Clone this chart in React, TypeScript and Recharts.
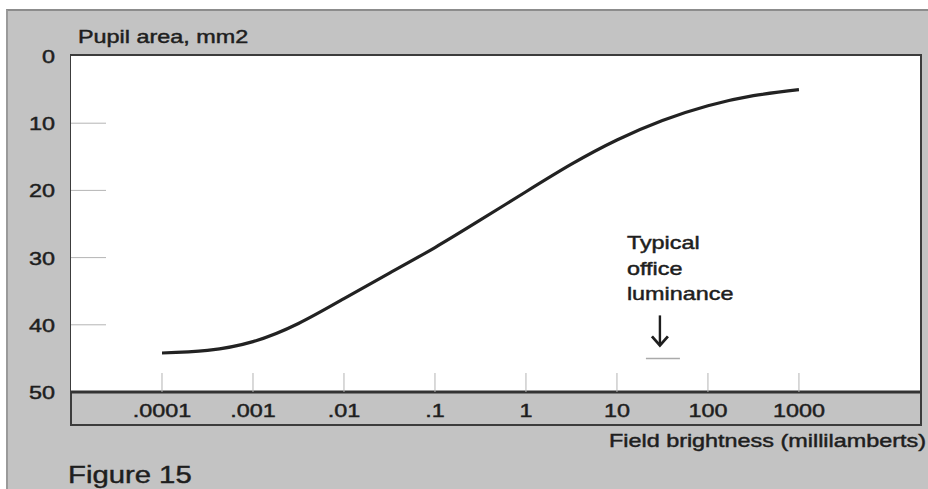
import React from 'react';
import { LineChart, Line, XAxis, YAxis, CartesianGrid, ReferenceDot } from 'recharts';

// field brightness (millilamberts) at half-decade steps
const brightness = [0.0001, 0.000316, 0.001, 0.00316, 0.01, 0.0316, 0.1, 0.316, 1, 3.16, 10, 31.6, 100, 316, 1000];
// pupil area, mm2
const pupilArea = [44.2, 43.8, 42.5, 39.8, 36.1, 32.3, 28.5, 24.4, 20.2, 16.1, 12.5, 9.6, 7.4, 5.9, 5.0];

const xTicks = [0.0001, 0.001, 0.01, 0.1, 1, 10, 100, 1000];
const xTickLabels = ['.0001', '.001', '.01', '.1', '1', '10', '100', '1000'];
const yTicks = [0, 10, 20, 30, 40, 50];

const officeLuminance = 32;
const officeLabel = ['Typical', 'office', 'luminance'];

const FONT = '"Liberation Sans", Arial, Helvetica, sans-serif';
const INK = '#1e1e1e';
const STRETCH = 1.3; // the original lettering is drawn wide
const txt = { fontFamily: FONT, fill: INK, stroke: INK, strokeWidth: 0.45 };

const data = brightness.map((b, i) => ({ b, area: pupilArea[i] }));

const YTick = (props: any) => {
    const { x, y, payload } = props;
    const v = payload.value;
    return (
        <g>
            {v > 0 && v < 50 && <line x1={x} x2={x + 35} y1={y} y2={y} stroke="#b4b4b4" strokeWidth={1} />}
            <text transform={`translate(${x - 16},${y + 7}) scale(${STRETCH},1)`} textAnchor="end" fontSize={18} {...txt}>
                {v}
            </text>
        </g>
    );
};

const XTick = (props: any) => {
    const { x, y, payload } = props;
    const idx = xTicks.indexOf(payload.value);
    return (
        <g>
            <line x1={x} x2={x} y1={y - 19} y2={y} stroke="#b4b4b4" strokeWidth={1} />
            <text transform={`translate(${x},${y + 25}) scale(${STRETCH},1)`} textAnchor="middle" fontSize={18} {...txt}>
                {idx >= 0 ? xTickLabels[idx] : payload.value}
            </text>
        </g>
    );
};

const OfficeMarker = (props: any) => {
    const { cx, cy } = props;
    const ax = cx - 3;
    return (
        <g>
            <line x1={cx - 17} x2={cx + 17} y1={cy} y2={cy} stroke="#aaaaaa" strokeWidth={1.5} />
            <line x1={ax} x2={ax} y1={cy - 43} y2={cy - 13} stroke={INK} strokeWidth={2.4} />
            <polyline points={`${ax - 8},${cy - 22} ${ax},${cy - 13} ${ax + 8},${cy - 22}`} fill="none" stroke={INK} strokeWidth={2.8} />
            {officeLabel.map((t, i) => (
                <text key={t} transform={`translate(${cx - 36},${cy - 109 + i * 25.5}) scale(${STRETCH},1)`} fontSize={18} {...txt}>
                    {t}
                </text>
            ))}
        </g>
    );
};

const App: React.FC = () => {
    return (
        <div style={{ position: 'absolute', left: 0, top: 0, width: 928, height: 489, background: '#fff', overflow: 'hidden' }}>
            {/* grey card behind the figure */}
            <div style={{ position: 'absolute', left: 6, top: 9, width: 922, height: 480, background: '#c3c3c3', borderTop: '2px solid #8c8c8c', borderLeft: '2px solid #9a9a9a', boxSizing: 'border-box' }} />
            {/* frame round plot and the tick label band */}
            <div style={{ position: 'absolute', left: 70, top: 54, width: 852, height: 372, border: '2px solid #3c3c3c', boxSizing: 'border-box' }} />
            <LineChart
                width={928}
                height={489}
                data={data}
                margin={{ top: 56, right: 8, bottom: 64, left: 0 }}
                style={{ position: 'absolute', left: 0, top: 0 }}
            >
                <CartesianGrid fill="#ffffff" horizontal={false} vertical={false} />
                <XAxis
                    dataKey="b"
                    type="number"
                    scale="log"
                    domain={[0.00001, 21400]}
                    ticks={xTicks}
                    height={33}
                    tickSize={0}
                    tickMargin={0}
                    tick={<XTick />}
                    axisLine={{ stroke: '#333', strokeWidth: 3 }}
                    tickLine={false}
                    allowDataOverflow
                />
                <YAxis
                    type="number"
                    domain={[0, 50]}
                    reversed
                    ticks={yTicks}
                    width={71}
                    tickSize={0}
                    tickMargin={0}
                    tick={<YTick />}
                    axisLine={false}
                    tickLine={false}
                />
                <Line
                    type="natural"
                    dataKey="area"
                    stroke="#222"
                    strokeWidth={3.2}
                    dot={false}
                    isAnimationActive={false}
                />
                <ReferenceDot x={officeLuminance} y={45} shape={<OfficeMarker />} />
            </LineChart>
            <svg width={928} height={489} style={{ position: 'absolute', left: 0, top: 0, pointerEvents: 'none' }}>
                <text transform={`translate(78,43) scale(${STRETCH},1)`} fontSize={18} {...txt}>Pupil area, mm2</text>
                <text transform={`translate(926,447) scale(${STRETCH},1)`} textAnchor="end" fontSize={18} {...txt}>Field brightness (millilamberts)</text>
                <text transform="translate(68,483) scale(1.22,1)" fontSize={24} {...txt}>Figure 15</text>
            </svg>
        </div>
    );
};

export default App;
